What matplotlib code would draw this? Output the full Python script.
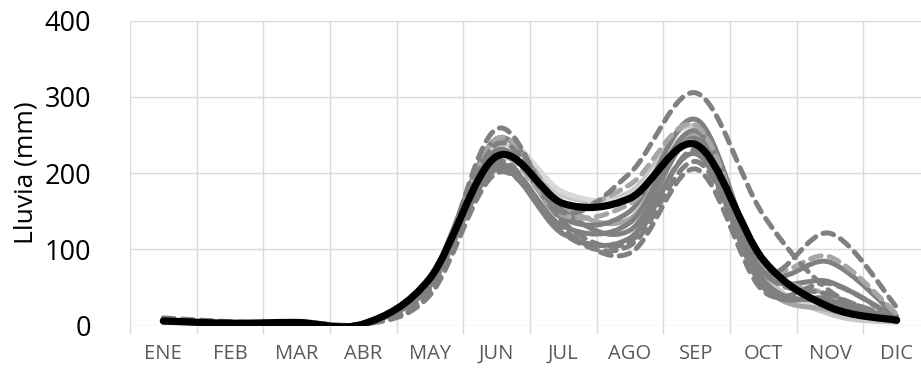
import numpy as np
import matplotlib.pyplot as plt
from matplotlib.path import Path
from matplotlib.patches import PathPatch

plt.rcParams['font.family'] = ['Open Sans', 'DejaVu Sans']

meses = ['ENE', 'FEB', 'MAR', 'ABR', 'MAY', 'JUN', 'JUL', 'AGO', 'SEP', 'OCT', 'NOV', 'DIC']

# series grises (lluvia mensual, mm)
s01 = [10, 5, 3, 2, 45, 238, 148, 200, 305, 145, 45, 10]
s02 = [8, 4, 4, 1, 40, 200, 125, 95, 205, 45, 55, 8]
s03 = [6, 3, 5, 3, 48, 258, 135, 110, 230, 70, 40, 6]
s04 = [5, 4, 3, 2, 55, 245, 160, 185, 262, 80, 90, 15]
s05 = [7, 3, 4, 2, 50, 215, 120, 105, 215, 70, 121, 24]
s06 = [5, 3, 4, 2, 58, 230, 140, 150, 270, 75, 83, 12]
s07 = [6, 3, 3, 2, 52, 210, 130, 135, 255, 70, 57, 10]
s08 = [5, 2, 4, 3, 60, 245, 150, 125, 245, 60, 30, 6]
s09 = [4, 3, 4, 2, 62, 225, 155, 140, 250, 55, 20, 5]
s10 = [5, 3, 3, 2, 58, 235, 170, 175, 260, 70, 15, 4]
s11 = [6, 3, 4, 3, 65, 240, 175, 170, 248, 60, 25, 5]
s12 = [5, 3, 4, 2, 55, 205, 120, 115, 225, 50, 35, 7]
s13 = [6, 3, 3, 2, 50, 220, 145, 160, 240, 80, 40, 10]
# promedio
promedio = [6, 3, 4, 2, 62, 222, 160, 167, 237, 86, 24, 7]

OSC = '#808080'
MED = '#a6a6a6'
CLA = '#c8c8c8'
dash = (0, (2.2, 1.6))

series = [
    (s10, CLA, '-'), (s11, '#d9d9d9', '-'), (s09, MED, '-'),
    (s12, OSC, '-'), (s07, OSC, '-'), (s08, OSC, '-'), (s06, OSC, '-'),
    (s13, MED, dash), (s04, MED, dash), (s05, OSC, dash),
    (s03, OSC, dash), (s02, OSC, dash), (s01, OSC, dash),
]


def curva_suave(y):
    # linea suavizada tipo Excel (bezier cubica)
    x = np.arange(len(y), dtype=float)
    y = np.asarray(y, dtype=float)
    n = len(y)
    verts = [(x[0], y[0])]
    codes = [Path.MOVETO]
    for i in range(n - 1):
        i0 = max(i - 1, 0)
        i3 = min(i + 2, n - 1)
        c1 = (x[i] + (x[i + 1] - x[i0]) / 6, y[i] + (y[i + 1] - y[i0]) / 6)
        c2 = (x[i + 1] - (x[i3] - x[i]) / 6, y[i + 1] - (y[i3] - y[i]) / 6)
        verts += [c1, c2, (x[i + 1], y[i + 1])]
        codes += [Path.CURVE4] * 3
    return Path(verts, codes)


fig = plt.figure(figsize=(9.21, 3.68), dpi=100)
ax = fig.add_axes([130 / 921, 42.5 / 368, 800 / 921, 304.8 / 368])

for vals, color, ls in series:
    p = PathPatch(curva_suave(vals), fill=False, edgecolor=color, lw=3.6,
                  linestyle=ls, capstyle='round', joinstyle='round', zorder=3)
    ax.add_patch(p)

ax.add_patch(PathPatch(curva_suave(promedio), fill=False, edgecolor='black',
                       lw=5.2, capstyle='round', joinstyle='round', zorder=4))

ax.set_xlim(-0.5, 11.5)
ax.set_ylim(0, 400)
ax.set_yticks([0, 100, 200, 300, 400])
ax.set_xticks(range(12))
ax.set_xticklabels(meses)
ax.set_xticks(np.arange(-0.5, 12, 1), minor=True)

for s in ax.spines.values():
    s.set_visible(False)

ax.grid(axis='y', color='#d9d9d9', lw=1.0, zorder=0)
ax.grid(axis='x', which='minor', color='#d9d9d9', lw=1.0, zorder=0)
ax.set_axisbelow(True)

ax.tick_params(axis='x', which='major', length=0, pad=13, labelsize=14.5,
               labelcolor='#595959')
ax.tick_params(axis='x', which='minor', length=6, color='#d9d9d9', width=1.0)
ax.tick_params(axis='y', length=0, pad=28, labelsize=19.5, labelcolor='black')

ax.set_ylabel('Lluvia (mm)', fontsize=19, labelpad=4)

fig.savefig('out.png', dpi=100)
